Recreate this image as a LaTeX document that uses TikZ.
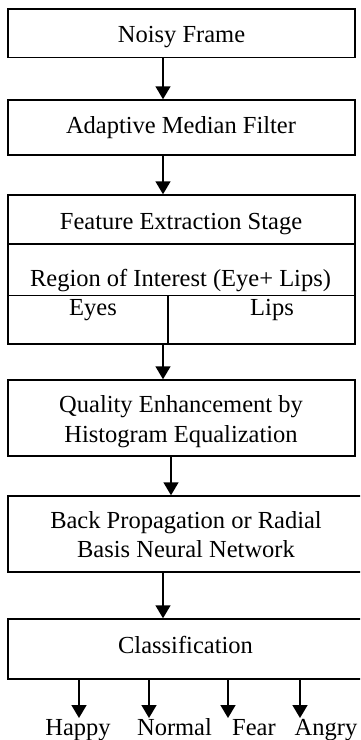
\documentclass[tikz,border=0pt]{standalone}
\usepackage{fontspec}
\setmainfont{Liberation Serif}
\usetikzlibrary{arrows.meta}
\begin{document}
\begin{tikzpicture}[x=1pt,y=-1pt,
  box/.style={draw, line width=1.5pt, inner sep=0pt, rectangle},
  txt/.style={anchor=base, inner sep=0pt, font=\fontsize{24.5}{29}\selectfont},
  arr/.style={line width=1.7pt, -{Triangle[width=15pt,length=13pt]}},
  divider/.style={line width=1.5pt}]
\useasboundingbox (0,0) rectangle (360,740);
\clip (0,0) rectangle (360,740);
% boxes
\node[box, minimum width=347pt, minimum height=48.5pt] (b1) at (181.5,33.25) {};
\node[box, minimum width=347pt, minimum height=55pt] (b2) at (181.5,127.5) {};
\node[box, minimum width=347pt, minimum height=149pt] (b3) at (181.5,269.5) {};
\node[box, minimum width=347pt, minimum height=76pt] (b4) at (181.5,418) {};
\node[box, minimum width=356pt, minimum height=76pt] (b5) at (186,534) {};
\node[box, minimum width=355pt, minimum height=60pt] (b6) at (185.5,649) {};
% texts
\node[txt] (t1) at (181.5,42) {Noisy Frame};
\node[txt] (t2) at (181,133) {Adaptive Median Filter};
\node[txt] (t3) at (181,229) {Feature Extraction Stage};
\node[txt] (t4) at (180.5,286) {Region of Interest (Eye+ Lips)};
\node[txt] (t5) at (93,315) {Eyes};
\node[txt] (t6) at (272,315) {Lips};
\node[txt] (t7) at (181,412) {Quality Enhancement by};
\node[txt] (t8) at (181,442) {Histogram Equalization};
\node[txt] (t9) at (186,528) {Back Propagation or Radial};
\node[txt] (t10) at (186,557) {Basis Neural Network};
\node[txt] (t11) at (185.5,653) {Classification};
\node[txt] (o1) at (78,735) {Happy};
\node[txt] (o2) at (174.5,735) {Normal};
\node[txt] (o3) at (254,735) {Fear};
\node[txt] (o4) at (326,735) {Angry};
% dividers in feature box
\coordinate (d1) at (0,244);
\coordinate (d2) at (0,295.5);
\coordinate (e1) at (168,295.5);
\draw[divider] (b3.west |- d1) -- (b3.east |- d1);
\draw[divider] (b3.west |- d2) -- (b3.east |- d2);
\draw[divider] (e1) -- (b3.south -| e1);
% arrow columns
\coordinate (cA) at (163,0);
\coordinate (cB) at (171,0);
\draw[arr] (b1.south -| cA) -- (b2.north -| cA);
\draw[arr] (b2.south -| cA) -- (b3.north -| cA);
\draw[arr] (b3.south -| cA) -- (b4.north -| cA);
\draw[arr] (b4.south -| cB) -- (b5.north -| cB);
\draw[arr] (b5.south -| cA) -- (b6.north -| cA);
% outputs
\coordinate (p1) at (79,718);
\coordinate (p2) at (149,718);
\coordinate (p3) at (228,718);
\coordinate (p4) at (300,718);
\draw[arr] (b6.south -| p1) -- (p1);
\draw[arr] (b6.south -| p2) -- (p2);
\draw[arr] (b6.south -| p3) -- (p3);
\draw[arr] (b6.south -| p4) -- (p4);
\end{tikzpicture}
\end{document}
